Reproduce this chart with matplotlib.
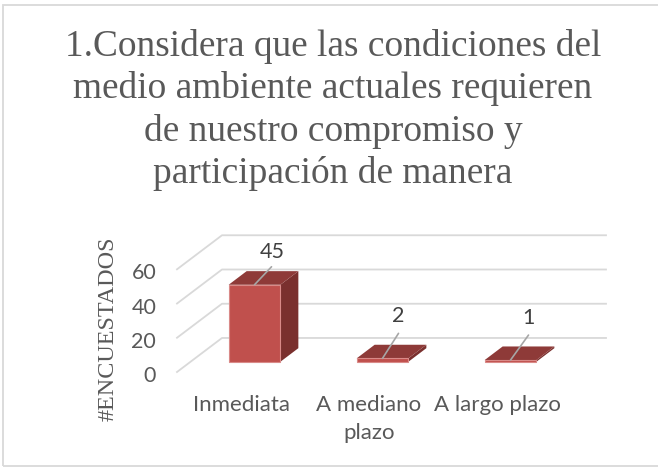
from matplotlib import pyplot as plt
from matplotlib.patches import Polygon, Rectangle
from matplotlib.transforms import ScaledTranslation

#==============================================================================
# Data
#==============================================================================
title = ("1.Considera que las condiciones del\n"
         "medio ambiente actuales requieren\n"
         "de nuestro compromiso y\n"
         "participación de manera")
ylabel = "#ENCUESTADOS"
categories = ["Inmediata", "A mediano\nplazo", "A largo plazo"]
values = [45, 2, 1]
yticks = [0, 20, 40, 60]

# leader line ends and label centres, in pixels away from the bar
leader_ends = [(17, 18), (16, 25), (18, 25)]
label_offsets = [(18, 33), (16, 42), (18, 42)]

#==============================================================================
# Fake 3D: depth goes from 0 (front wall) to 1 (back wall)
#==============================================================================
W, H = 658, 468
DEPTH_X = 45 / 128   # x units per full depth
DEPTH_Y = 34 / 1.71  # y units per full depth
BAR_WIDTH = 0.404
D0, D1 = 0.3, 0.7

def project(x, y, d):
    return (x + d * DEPTH_X, y + d * DEPTH_Y)

plt.rcParams['font.family'] = ['Lato', 'DejaVu Sans']
fig = plt.figure(figsize=(W / 100, H / 100), dpi=100, facecolor='w')
ax = fig.add_axes([177 / W, (H - 372) / H, 384 / W, 102.7 / H])
ax.set_xlim(0, 3)
ax.set_ylim(0, 60)
ax.patch.set_visible(False)
for s in ax.spines.values():
    s.set_visible(False)

# Grid lines, side wall part then back wall part
for v in yticks:
    a = project(0, v, 0)
    b = project(0, v, 1)
    c = project(3, v, 1)
    ax.plot([a[0], b[0], c[0]], [a[1], b[1], c[1]], color='#D9D9D9', lw=1.3,
            clip_on=False, zorder=1)

# Bars
for i, v in enumerate(values):
    x0 = i + 0.5 - BAR_WIDTH / 2
    x1 = i + 0.5 + BAR_WIDTH / 2
    front = [project(x0, 0, D0), project(x1, 0, D0), project(x1, v, D0), project(x0, v, D0)]
    top = [project(x0, v, D0), project(x1, v, D0), project(x1, v, D1), project(x0, v, D1)]
    side = [project(x1, 0, D0), project(x1, 0, D1), project(x1, v, D1), project(x1, v, D0)]
    ax.add_patch(Polygon(side, fc='#7A302E', ec='none', clip_on=False, zorder=2))
    ax.add_patch(Polygon(top, fc='#8E3A38', ec='none', clip_on=False, zorder=2))
    ax.add_patch(Polygon(front, fc='#C0504D', ec='#D98A88', lw=0.8, clip_on=False, zorder=3))

    # Data label and its leader line
    start = project(i + 0.5, v, D0)
    ax.annotate('', xy=start, xytext=leader_ends[i], textcoords='offset pixels',
                arrowprops=dict(arrowstyle='-', color='#A6A6A6', lw=1.2,
                                shrinkA=0, shrinkB=0), zorder=4)
    ax.annotate(str(v), xy=start, xytext=label_offsets[i], textcoords='offset pixels',
                ha='center', va='center', fontsize=15.5, color='#404040', zorder=5)

# Axes text
ax.set_yticks(yticks)
ax.set_xticks([i + 0.5 for i in range(len(categories))])
ax.set_xticklabels(categories, linespacing=1.5)
ax.tick_params(axis='y', length=0, labelsize=15.5, labelcolor='#595959', pad=15)
ax.tick_params(axis='x', length=0, labelsize=16, labelcolor='#595959', pad=16.5)

# y tick labels sit a bit under their grid line
nudge = ScaledTranslation(0, -2 / 100, fig.dpi_scale_trans)
for lab in ax.get_yticklabels():
    lab.set_transform(lab.get_transform() + nudge)

fig.text(108 / W, 1 - 329 / H, ylabel, rotation=90, ha='center', va='center',
         family='Liberation Serif', fontsize=17.4, color='#595959')
fig.text(333 / W, 1 - 110 / H, title, ha='center', va='center', multialignment='center',
         family='Liberation Serif', fontsize=26.9, color='#595959', linespacing=1.28)

# Chart border, right side falls off the picture
fig.add_artist(Rectangle((2.5 / W, 2 / H), 660 / W, 461 / H, transform=fig.transFigure,
                         fc='none', ec='#D9D9D9', lw=1.3))

fig.savefig('out.png', dpi=100)
